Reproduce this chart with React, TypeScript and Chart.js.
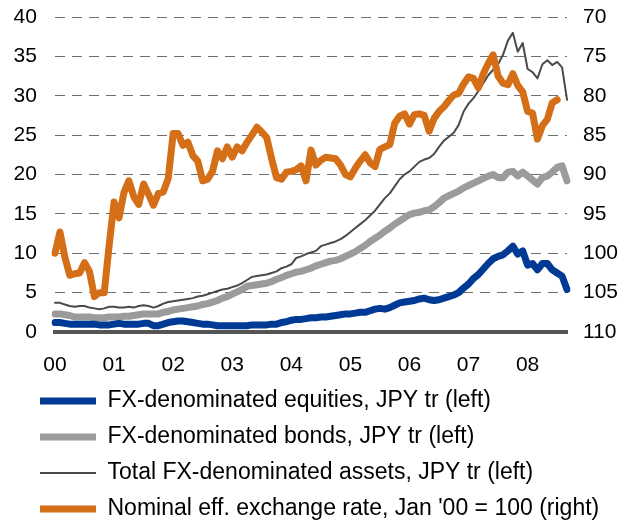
import { useEffect, useRef } from 'react';
import { Chart, registerables } from 'chart.js';

Chart.register(...registerables);

const years = ['00', '01', '02', '03', '04', '05', '06', '07', '08'];
const monthCodes = ['01', '02', '03', '04', '05', '06', '07', '08', '09', '10', '11', '12'];

// FX-denominated equities, JPY tr (left) — monthly, Jan 2000 .. Sep 2008
const equities = [
  1.2, 1.2, 1.1, 1.0, 1.0, 1.0, 1.0, 1.0, 1.0, 0.9, 0.9, 0.9,
  1.0, 1.1, 1.0, 1.0, 1.0, 1.0, 1.1, 1.1, 0.8, 0.8, 1.0, 1.2,
  1.3, 1.4, 1.4, 1.3, 1.2, 1.1, 1.0, 1.0, 0.9, 0.8, 0.8, 0.8,
  0.8, 0.8, 0.8, 0.8, 0.9, 0.9, 0.9, 0.9, 1.0, 1.0, 1.2, 1.3,
  1.5, 1.6, 1.6, 1.7, 1.8, 1.8, 1.9, 1.9, 2.0, 2.1, 2.2, 2.3,
  2.3, 2.4, 2.5, 2.5, 2.7, 2.9, 3.0, 2.9, 3.1, 3.4, 3.7, 3.8,
  3.9, 4.0, 4.2, 4.3, 4.1, 4.0, 4.1, 4.3, 4.5, 4.7, 5.0, 5.6,
  6.1, 6.8, 7.3, 8.0, 8.7, 9.3, 9.6, 9.8, 10.3, 10.9, 9.9, 10.3,
  8.5, 8.7, 7.9, 8.7, 8.7, 7.9, 7.5, 7.1, 5.4,
];

// FX-denominated bonds, JPY tr (left)
const bonds = [
  2.3, 2.3, 2.2, 2.1, 1.9, 1.9, 1.9, 1.9, 1.8, 1.8, 1.8, 1.9,
  1.9, 1.9, 2.0, 2.0, 2.1, 2.2, 2.3, 2.3, 2.3, 2.3, 2.5, 2.6,
  2.8, 2.9, 3.0, 3.1, 3.2, 3.3, 3.5, 3.6, 3.8, 4.0, 4.3, 4.5,
  4.8, 5.1, 5.4, 5.8, 5.9, 6.0, 6.1, 6.2, 6.4, 6.7, 6.9, 7.2,
  7.4, 7.6, 7.7, 7.9, 8.1, 8.4, 8.6, 8.8, 9.0, 9.1, 9.3, 9.6,
  9.9, 10.2, 10.6, 11.0, 11.5, 11.9, 12.3, 12.8, 13.2, 13.7, 14.1, 14.5,
  14.9, 15.1, 15.2, 15.4, 15.5, 15.9, 16.4, 17.0, 17.3, 17.6, 17.9, 18.3,
  18.6, 18.9, 19.2, 19.5, 19.8, 20.0, 19.6, 19.6, 20.3, 20.4, 19.8, 20.3,
  19.8, 19.3, 18.8, 19.6, 19.8, 20.3, 20.9, 21.1, 19.2,
];

// Total FX-denominated assets, JPY tr (left)
const totalAssets = [
  3.7, 3.7, 3.5, 3.3, 3.2, 3.3, 3.3, 3.1, 3.0, 2.9, 3.0, 3.2,
  3.2, 3.1, 3.1, 3.2, 3.1, 3.3, 3.4, 3.3, 3.1, 3.3, 3.6, 3.8,
  3.9, 4.0, 4.1, 4.2, 4.3, 4.5, 4.6, 4.8, 5.0, 5.2, 5.4, 5.5,
  5.7, 5.9, 6.2, 6.6, 7.0, 7.1, 7.2, 7.3, 7.5, 7.7, 8.1, 8.3,
  8.6, 9.4, 9.6, 9.9, 10.1, 10.3, 10.9, 11.1, 11.3, 11.5, 11.8, 12.2,
  12.7, 13.2, 13.7, 14.2, 14.8, 15.4, 16.2, 17.0, 17.6, 18.5, 19.4, 20.0,
  20.4, 21.0, 21.6, 21.9, 22.1, 22.6, 23.5, 24.3, 24.8, 25.3, 26.3, 28.0,
  29.0, 29.7, 30.6, 31.6, 32.6, 33.3, 34.0, 35.2, 37.0, 38.0, 35.6, 36.7,
  33.4, 33.0, 32.2, 34.0, 34.5, 33.9, 34.3, 33.6, 29.5,
];

// Nominal effective exchange rate, Jan '00 = 100 (right, inverted)
const neer = [
  100, 97.3, 100.5, 102.8, 102.6, 102.5, 101.2, 102.3, 105.5, 105.0, 105.0, 99.0,
  93.5, 95.5, 92.3, 90.8, 92.8, 93.8, 91.2, 92.5, 93.9, 92.4, 92.2, 90.5,
  84.8, 84.8, 86.3, 85.9, 87.6, 88.3, 90.8, 90.6, 89.6, 87.0, 88.0, 86.5,
  87.8, 86.5, 87.0, 85.9, 85.0, 84.0, 84.6, 85.3, 88.0, 90.4, 90.6, 89.7,
  89.6, 89.4, 88.9, 90.8, 86.9, 88.8, 88.2, 87.8, 87.9, 88.0, 88.8, 90.0,
  90.3, 89.2, 88.3, 87.5, 88.5, 89.0, 86.8, 86.5, 86.2, 83.5, 82.6, 82.3,
  83.6, 82.4, 82.3, 82.5, 84.5, 82.9, 82.0, 81.4, 80.6, 79.9, 79.7, 78.5,
  77.6, 77.8, 79.0, 77.2, 75.9, 74.8, 77.5, 78.4, 78.6, 77.2, 78.7, 79.5,
  82.0, 82.2, 85.5, 83.8, 83.0, 80.9, 80.5, null, null,
];

const leftTicks = { min: 0, max: 40, step: 5 };
const rightTicks = { min: 70, max: 110, step: 5 };

const FONT = "'Liberation Sans', Arial, Helvetica, sans-serif";

export default function App() {
  const ref = useRef<HTMLCanvasElement>(null);

  useEffect(() => {
    document.body.style.margin = '0';
    const labels = years
      .flatMap((y) => monthCodes.map((m) => `${y}-${m}`))
      .slice(0, equities.length);

    const chart = new Chart(ref.current as HTMLCanvasElement, {
      type: 'line',
      data: {
        labels,
        datasets: [
          {
            label: 'FX-denominated equities, JPY tr (left)',
            data: equities,
            borderColor: '#003a94',
            backgroundColor: '#003a94',
            borderWidth: 7,
            yAxisID: 'y',
            order: 0,
          },
          {
            label: 'FX-denominated bonds, JPY tr (left)',
            data: bonds,
            borderColor: '#9b9b9b',
            backgroundColor: '#9b9b9b',
            borderWidth: 7,
            yAxisID: 'y',
            order: 1,
          },
          {
            label: 'Total FX-denominated assets, JPY tr (left)',
            data: totalAssets,
            borderColor: '#4a4a4a',
            backgroundColor: '#4a4a4a',
            borderWidth: 2,
            yAxisID: 'y',
            order: 3,
          },
          {
            label: "Nominal eff. exchange rate, Jan '00 = 100 (right)",
            data: neer,
            borderColor: '#d46f17',
            backgroundColor: '#d46f17',
            borderWidth: 7,
            yAxisID: 'y2',
            order: 2,
          },
        ].map((d) => ({
          ...d,
          pointRadius: 0,
          pointHoverRadius: 0,
          pointStyle: 'line',
          tension: 0,
          fill: false,
          borderCapStyle: 'round',
          borderJoinStyle: 'round',
          spanGaps: false,
        })) as any,
      },
      options: {
        animation: false,
        responsive: false,
        events: [],
        layout: { padding: { left: 27, right: 0, top: 17, bottom: -6.5 } },
        plugins: {
          legend: {
            position: 'bottom',
            align: 'start',
            labels: {
              usePointStyle: true,
              pointStyleWidth: 56,
              padding: 13,
              color: '#000',
              font: { family: FONT, size: 23 },
              sort: (a: any, b: any) => a.datasetIndex - b.datasetIndex,
            },
          },
          tooltip: { enabled: false },
        },
        scales: {
          x: {
            type: 'category',
            grid: { display: false, drawTicks: false },
            border: { display: true, color: '#555555', width: 4 },
            ticks: {
              autoSkip: false,
              maxRotation: 0,
              padding: 21,
              color: '#000',
              font: { family: FONT, size: 21 },
              callback: (_v: any, i: number) => (i % 12 === 0 ? years[i / 12] : ''),
            },
            afterFit: (s: any) => {
              s.height = 44.5;
            },
          },
          y: {
            position: 'left',
            min: leftTicks.min,
            max: leftTicks.max,
            ticks: {
              stepSize: leftTicks.step,
              mirror: true,
              crossAlign: 'far',
              padding: -41.4,
              color: '#000',
              font: { family: FONT, size: 21 },
            },
            grid: {
              drawTicks: false,
              lineWidth: 1,
              color: (ctx: any) => (ctx.tick && ctx.tick.value === 0 ? 'rgba(0,0,0,0)' : '#6e6e6e'),
            },
            border: { display: false, dash: [10, 7] },
            afterFit: (s: any) => {
              s.width = 28;
            },
          },
          y2: {
            position: 'right',
            reverse: true,
            min: rightTicks.min,
            max: rightTicks.max,
            ticks: {
              stepSize: rightTicks.step,
              padding: 16,
              color: '#000',
              font: { family: FONT, size: 21, lineHeight: 0.05 },
            },
            grid: { display: false, drawTicks: false },
            border: { display: false },
            afterFit: (s: any) => {
              s.width = 73;
            },
          },
        },
      } as any,
    });
    return () => chart.destroy();
  }, []);

  return (
    <div style={{ width: 640, height: 524 }}>
      <canvas ref={ref} width={640} height={524} style={{ display: 'block' }} />
    </div>
  );
}
